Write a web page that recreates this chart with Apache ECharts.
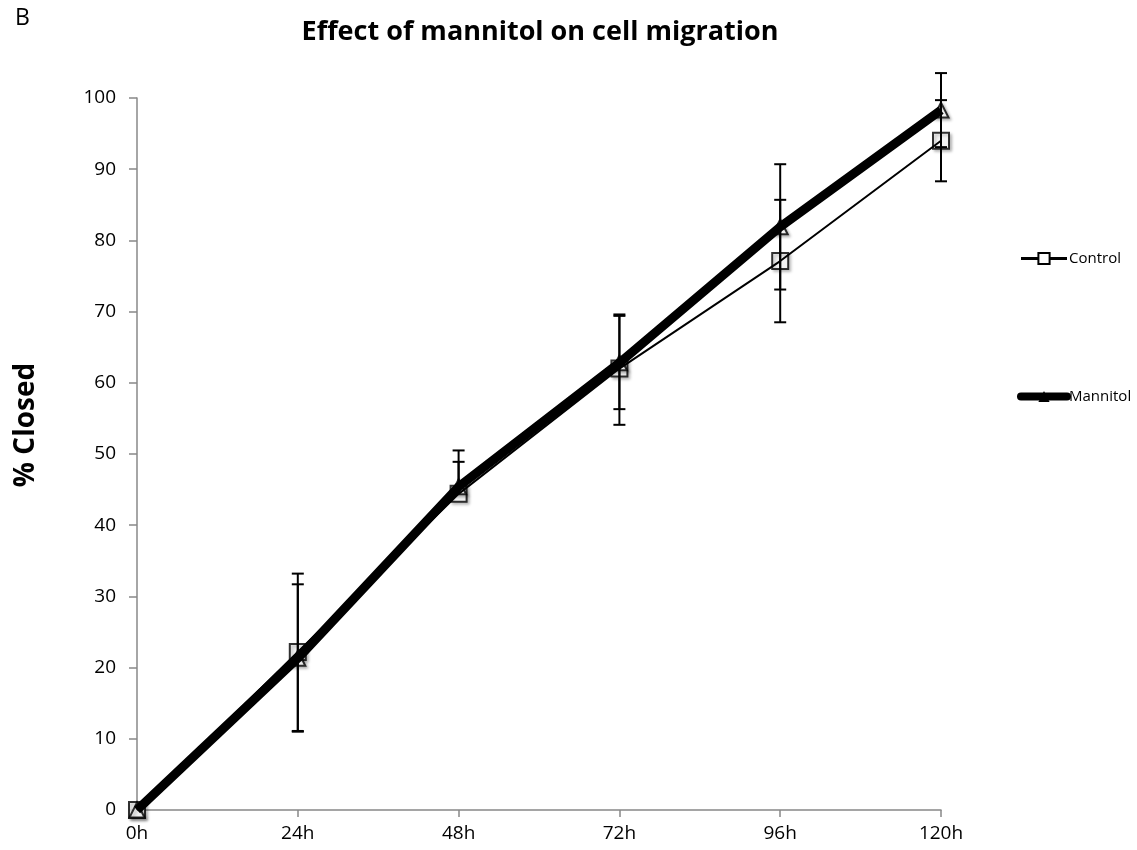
<!DOCTYPE html>
<html><head><meta charset="utf-8">
<script src="https://cdn.jsdelivr.net/npm/echarts@6/dist/echarts.min.js"></script>
<style>html,body{margin:0;padding:0;background:#fff}#c{width:1137px;height:850px}</style>
</head><body><div id="c"></div>
<script>
var categories = ['0h','24h','48h','72h','96h','120h'];
var controlValues = [0, 22.2, 44.4, 62.0, 77.1, 94.0];
var controlPlus   = [0, 11.0, 6.1, 7.6, 8.6, 5.7];
var controlMinus  = [0, 11.2, 0, 7.9, 8.6, 5.7];
var mannitolValues = [0, 21.3, 45.4, 62.8, 81.9, 98.3];
var mannitolPlus   = [0, 10.4, 3.5, 6.6, 8.8, 5.2];
var mannitolMinus  = [0, 10.2, 0, 6.5, 8.8, 5.2];
var yTicks = [0,10,20,30,40,50,60,70,80,90,100];

function errData(vals, plus, minus){
  return vals.map(function(v,i){ return [i, v, v + plus[i], v - minus[i]]; });
}
function errRender(params, api){
  var x = api.value(0);
  var c = api.coord([x, api.value(1)]);
  var hi = api.coord([x, api.value(2)]);
  var lo = api.coord([x, api.value(3)]);
  var hw = 6;
  var st = {stroke:'#000', lineWidth:2};
  var ch = [];
  if (api.value(2) > api.value(1)) {
    ch.push({type:'line', shape:{x1:c[0],y1:c[1],x2:hi[0],y2:hi[1]}, style:st});
    ch.push({type:'line', shape:{x1:hi[0]-hw,y1:hi[1],x2:hi[0]+hw,y2:hi[1]}, style:st});
  }
  if (api.value(3) < api.value(1)) {
    ch.push({type:'line', shape:{x1:c[0],y1:c[1],x2:lo[0],y2:lo[1]}, style:st});
    ch.push({type:'line', shape:{x1:lo[0]-hw,y1:lo[1],x2:lo[0]+hw,y2:lo[1]}, style:st});
  }
  return {type:'group', children:ch};
}
var chart = echarts.init(document.getElementById('c'));
var markerStyle = {color:'#fff', borderColor:'#000', borderWidth:2, shadowBlur:3, shadowColor:'rgba(0,0,0,0.3)', shadowOffsetX:2, shadowOffsetY:2};
chart.setOption({
  animation:false,
  backgroundColor:'#fff',
  title:[
    {text:'Effect of mannitol on cell migration', left:535, top:14, textAlign:'center',
     textStyle:{fontFamily:'Open Sans', fontWeight:'bold', fontSize:27, color:'#000'}},
    {text:'B', left:10, top:2, textStyle:{fontFamily:'Open Sans', fontWeight:'normal', fontSize:23, color:'#000'}}
  ],
  graphic:[
    {type:'text', x:26, y:425, rotation:Math.PI/2,
     style:{text:'% Closed', fontFamily:'Open Sans', fontWeight:'bold', fontSize:28, fill:'#000',
            textAlign:'center', textVerticalAlign:'middle'}}
  ],
  legend:{
    orient:'vertical', left:1012, top:246, itemGap:123, itemWidth:46, itemHeight:14,
    textStyle:{fontFamily:'Open Sans', fontSize:15, color:'#000', padding:[0,0,0,-3]},
    data:[
      {name:'Control', lineStyle:{color:'#000', width:3}},
      {name:'Mannitol', lineStyle:{color:'#000', width:8, cap:'round'}}
    ]
  },
  grid:{left:137, right:196, top:98, bottom:40, containLabel:false},
  xAxis:{
    type:'category', data:categories, boundaryGap:false,
    axisLine:{lineStyle:{color:'#888', width:1.5}},
    axisTick:{show:true, alignWithLabel:true, length:7, lineStyle:{color:'#888', width:1.5}},
    axisLabel:{fontFamily:'Open Sans', fontSize:19, color:'#000', margin:14}
  },
  yAxis:{
    type:'value', min:0, max:100, interval:10,
    axisLine:{show:true, lineStyle:{color:'#888', width:1.5}},
    axisTick:{show:true, length:8, lineStyle:{color:'#888', width:1.5}},
    splitLine:{show:false},
    axisLabel:{fontFamily:'Open Sans', fontSize:19, color:'#000', margin:21,
      formatter:function(v){ return yTicks.indexOf(v) >= 0 ? String(v) : ''; }}
  },
  series:[
    {name:'ControlMarkers', type:'scatter', data:controlValues, symbol:'rect', symbolSize:16, itemStyle:markerStyle, z:1, silent:true},
    {name:'MannitolMarkers', type:'scatter', data:mannitolValues, symbol:'triangle', symbolSize:15, itemStyle:markerStyle, z:1, silent:true},
    {name:'ControlErr', type:'custom', renderItem:errRender, data:errData(controlValues, controlPlus, controlMinus), z:2, clip:false, silent:true},
    {name:'MannitolErr', type:'custom', renderItem:errRender, data:errData(mannitolValues, mannitolPlus, mannitolMinus), z:2, clip:false, silent:true},
    {name:'Control', type:'line', data:controlValues, symbol:'rect', symbolSize:12, showSymbol:false,
     lineStyle:{color:'#000', width:2}, itemStyle:{color:'#fff', borderColor:'#000', borderWidth:1.5}, z:3},
    {name:'Mannitol', type:'line', data:mannitolValues, symbol:'triangle', symbolSize:8, showSymbol:false,
     lineStyle:{color:'#000', width:9}, itemStyle:{color:'#000', borderColor:'#000'}, z:4}
  ]
});
</script></body></html>
